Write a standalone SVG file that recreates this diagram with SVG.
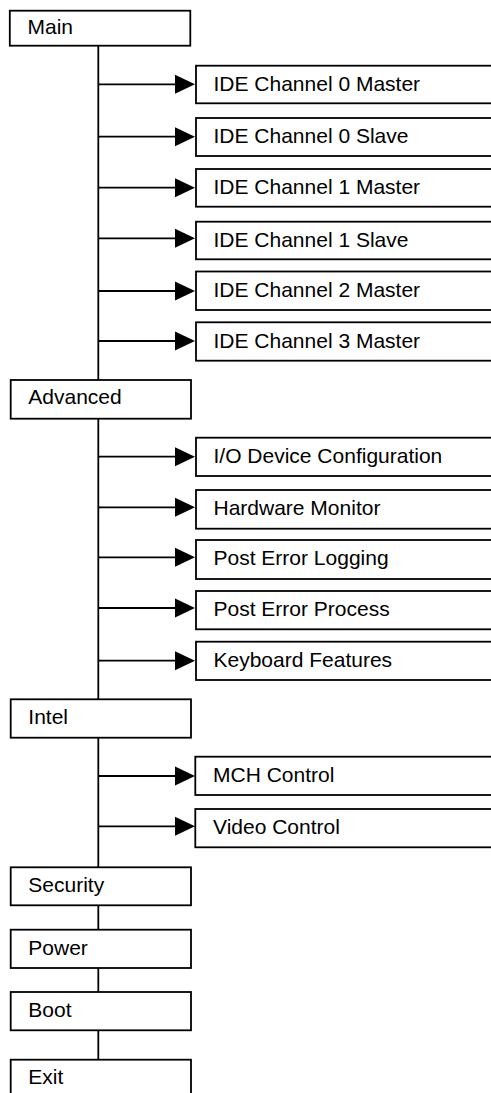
<svg xmlns="http://www.w3.org/2000/svg" width="491" height="1093" viewBox="0 0 491 1093">
<style>
.box{fill:#fff;stroke:#000;stroke-width:1.8}
.t{font-family:"Liberation Sans",Arial,sans-serif;font-size:21px;fill:#000}
.ln{stroke:#000;stroke-width:1.8;fill:none}
</style>
<defs>
<marker id="ah" markerUnits="userSpaceOnUse" markerWidth="20" markerHeight="19" refX="0" refY="9.5" orient="auto" overflow="visible">
<path d="M0,0 L20,9.5 L0,19 z" fill="#000"/>
</marker>
</defs>
<rect width="491" height="1093" fill="#fff"/>
<g id="connectors">
<line class="ln" x1="98.3" y1="46" x2="98.3" y2="380"/>
<line class="ln" x1="98.3" y1="418.7" x2="98.3" y2="699.3"/>
<line class="ln" x1="98.3" y1="737.7" x2="98.3" y2="867.3"/>
<line class="ln" x1="98.3" y1="905.3" x2="98.3" y2="929.7"/>
<line class="ln" x1="98.3" y1="968" x2="98.3" y2="992"/>
<line class="ln" x1="98.3" y1="1030.3" x2="98.3" y2="1059.7"/>
<line class="ln" x1="98.3" y1="84.3" x2="175" y2="84.3" marker-end="url(#ah)"/>
<line class="ln" x1="98.3" y1="136.7" x2="175" y2="136.7" marker-end="url(#ah)"/>
<line class="ln" x1="98.3" y1="187.7" x2="175" y2="187.7" marker-end="url(#ah)"/>
<line class="ln" x1="98.3" y1="238.3" x2="175" y2="238.3" marker-end="url(#ah)"/>
<line class="ln" x1="98.3" y1="291" x2="175" y2="291" marker-end="url(#ah)"/>
<line class="ln" x1="98.3" y1="341" x2="175" y2="341" marker-end="url(#ah)"/>
<line class="ln" x1="98.3" y1="456.7" x2="175" y2="456.7" marker-end="url(#ah)"/>
<line class="ln" x1="98.3" y1="507.3" x2="175" y2="507.3" marker-end="url(#ah)"/>
<line class="ln" x1="98.3" y1="557.3" x2="175" y2="557.3" marker-end="url(#ah)"/>
<line class="ln" x1="98.3" y1="608" x2="175" y2="608" marker-end="url(#ah)"/>
<line class="ln" x1="98.3" y1="660.7" x2="175" y2="660.7" marker-end="url(#ah)"/>
<line class="ln" x1="98.3" y1="776" x2="175" y2="776" marker-end="url(#ah)"/>
<line class="ln" x1="98.3" y1="826.3" x2="175" y2="826.3" marker-end="url(#ah)"/>
</g>
<g id="main"><rect class="box" x="9.8" y="10.7" width="180.5" height="35"/><text class="t" x="27.5" y="34.3">Main</text></g>
<g id="ide0m"><rect class="box" x="196" y="65.7" width="310" height="37.6"/><text class="t" x="213.5" y="90.5">IDE Channel 0 Master</text></g>
<g id="ide0s"><rect class="box" x="196" y="118" width="310" height="38"/><text class="t" x="213.5" y="143">IDE Channel 0 Slave</text></g>
<g id="ide1m"><rect class="box" x="196" y="169" width="310" height="37.7"/><text class="t" x="213.5" y="194">IDE Channel 1 Master</text></g>
<g id="ide1s"><rect class="box" x="196" y="221.7" width="310" height="37.6"/><text class="t" x="213.5" y="246.5">IDE Channel 1 Slave</text></g>
<g id="ide2m"><rect class="box" x="196" y="271.5" width="310" height="38.5"/><text class="t" x="213.5" y="297">IDE Channel 2 Master</text></g>
<g id="ide3m"><rect class="box" x="196" y="322.3" width="310" height="38.4"/><text class="t" x="213.5" y="347.5">IDE Channel 3 Master</text></g>
<g id="advanced"><rect class="box" x="10.7" y="380" width="180.3" height="38.7"/><text class="t" x="28.3" y="404">Advanced</text></g>
<g id="io"><rect class="box" x="196" y="437.7" width="310" height="38.3"/><text class="t" x="213.5" y="462.5">I/O Device Configuration</text></g>
<g id="hw"><rect class="box" x="196" y="490" width="310" height="38.7"/><text class="t" x="213.5" y="514.5">Hardware Monitor</text></g>
<g id="pel"><rect class="box" x="196" y="540" width="310" height="39"/><text class="t" x="213.5" y="564.5">Post Error Logging</text></g>
<g id="pep"><rect class="box" x="196" y="591" width="310" height="38.3"/><text class="t" x="213.5" y="615.5">Post Error Process</text></g>
<g id="kf"><rect class="box" x="196" y="641.7" width="310" height="38.3"/><text class="t" x="213.5" y="666.5">Keyboard Features</text></g>
<g id="intel"><rect class="box" x="10.7" y="699.3" width="180.3" height="38.4"/><text class="t" x="28.3" y="723.5">Intel</text></g>
<g id="mch"><rect class="box" x="195.3" y="756.7" width="310" height="38.3"/><text class="t" x="213" y="781.5">MCH Control</text></g>
<g id="video"><rect class="box" x="195.3" y="809" width="310" height="38.3"/><text class="t" x="213" y="833.5">Video Control</text></g>
<g id="security"><rect class="box" x="10.7" y="867.3" width="180.3" height="38"/><text class="t" x="28.3" y="892">Security</text></g>
<g id="power"><rect class="box" x="10.7" y="929.7" width="180.3" height="38.3"/><text class="t" x="28.3" y="954.5">Power</text></g>
<g id="boot"><rect class="box" x="10.7" y="992" width="180.3" height="38.3"/><text class="t" x="28.3" y="1016.5">Boot</text></g>
<g id="exit"><rect class="box" x="10.7" y="1059.7" width="180.3" height="45"/><text class="t" x="28.3" y="1084">Exit</text></g>
</svg>
